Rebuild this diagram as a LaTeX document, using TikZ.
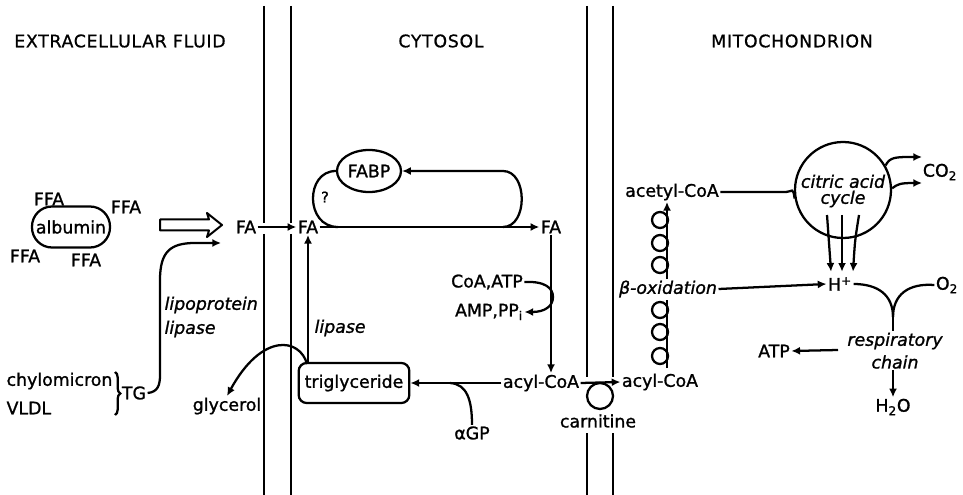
\documentclass[tikz,border=0pt]{standalone}
\usepackage{fontspec}
\setmainfont{DejaVu Sans}[FakeBold=1.2]
\newfontfamily\hdrfont{DejaVu Sans}[LetterSpace=4,FakeBold=0.8]
\usetikzlibrary{arrows.meta,shapes.geometric,decorations.pathreplacing,calc}
\begin{document}
\begin{tikzpicture}[x=0.75pt,y=-0.75pt,
  every node/.style={font=\fontsize{13}{15}\selectfont, inner sep=1pt},
  itl/.style={font=\fontsize{13}{15}\selectfont\itshape},
  hdr/.style={font=\hdrfont\fontsize{13}{15}\selectfont},
  ln/.style={line width=1.7pt},
  arr/.style={line width=1.7pt, -{Latex[length=6.5pt,width=6pt]}},
  mem/.style={line width=1.4pt},
  boxed/.style={draw, line width=1.7pt},
]
\useasboundingbox (0,0) rectangle (963,495);

% membranes
\draw[mem] (264,6) -- (264,223) (264,234) -- (264,495);
\draw[mem] (291,6) -- (291,223) (291,234) -- (291,495);
\draw[mem] (587,6) -- (587,377) (587,433) -- (587,495);
\draw[mem] (613,6) -- (613,377) (613,433) -- (613,495);

% headers
\node[hdr] (hext) at (120,41) {EXTRACELLULAR FLUID};
\node[hdr] (hcyt) at (441,41) {CYTOSOL};
\node[hdr] (hmit) at (792,41) {MITOCHONDRION};

% extracellular
\node[boxed, rounded corners=15pt, minimum width=58.5pt, minimum height=30.75pt] (alb) at (71,227) {albumin};
\node (ffa1) at (49,199) {FFA};
\node (ffa2) at (126,207) {FFA};
\node (ffa3) at (25,256) {FFA};
\node (ffa4) at (86,260) {FFA};
\node[anchor=west] (chylo) at (5,381) {chylomicron};
\node[anchor=west] (vldl) at (5,408) {VLDL};
\node (tg) at (134,393) {TG};
\draw[ln, decorate, decoration={brace, amplitude=4pt}] (115,372) -- (115,415);
\node[itl, anchor=west] (lpl1) at (163,305) {lipoprotein};
\node[itl, anchor=west] (lpl2) at (163,329) {lipase};

\node (fa1) at (246,227) {FA};
\node (fa2) at (308,227) {FA};
\node (fa3) at (551,227) {FA};

% hollow arrow
\draw[line width=1.5pt, line join=round] (160,219.5) -- (209,219.5) -- (207,213) -- (222,225) -- (207,237) -- (209,230.5) -- (160,230.5) -- cycle;

% lipoprotein lipase path
\coordinate (lpltip) at (221,243);
\draw[arr] (tg.east) .. controls (158,392) and (160,385) .. (160,375) -- (160,280) .. controls (160,252) and (170,243) .. (195,243) -- (lpltip);

\draw[arr] (fa1.east) -- (fa2.west);

% cytosol
\node[draw, ellipse, line width=1.7pt, minimum width=48pt, minimum height=31.5pt, inner sep=0pt] (fabp) at (369,171) {FABP};
\node[font=\fontsize{11}{13}\selectfont] (q) at (325,197) {?};
\draw[arr] (fa2.east) -- (fa3.west);
\draw[ln] (338,227) .. controls (305,227) and (305,171) .. (fabp.west);
\draw[arr] (503,227) .. controls (528,227) and (528,171) .. (503,171) -- (fabp.east);

\node (coa) at (487,282) {CoA,ATP};
\node (amp) at (489,312) {AMP,PP\textsubscript{i}};
\node (acylc) at (541,383) {acyl-CoA};
\draw[arr] (fa3.south) -- (acylc.north -| fa3.south);
\draw[arr] (coa.east) .. controls (545,281) and (553,288) .. (553,297) .. controls (553,306) and (545,312) .. (amp.east);

\node[boxed, rounded corners=6pt, minimum width=83pt, minimum height=30pt] (trig) at (354,383) {triglyceride};
\node (agp) at (472,433) {αGP};
\draw[arr] (acylc.west) -- (trig.east);
\draw[ln] (agp.north) .. controls (472,400) and (467,384) .. (450,383);

\node[itl, anchor=west] (lipase) at (313,328) {lipase};
\draw[arr] (fa2.south |- trig.north) -- (fa2.south);

\node (glyc) at (227,406) {glycerol};
\draw[arr] (307,364) .. controls (300,338) and (262,332) .. (glyc.north);

% carnitine
\node (acylm) at (660,382) {acyl-CoA};
\node[draw, circle, line width=1.7pt, minimum size=19.5pt, inner sep=0pt] (carn) at (600,396) {};
\node (carnt) at (598,421) {carnitine};
\draw[arr] (acylc.east) -- (acylm.west);

% mitochondrion
\node (acetyl) at (672,192) {acetyl-CoA};
\node[itl] (beta) at (668,289) {β-oxidation};
\draw[ln] (667,368) -- (667,300);
\draw[arr] (667,279) -- (acetyl.south -| 667,0);
\foreach \yc in {220,243,265,310,332,356} {
  \draw[ln] (660,\yc) circle[radius=8];
}

\node[draw, circle, line width=1.7pt, minimum size=72pt, inner sep=0pt] (cac) at (843,190) {};
\node[itl, align=center] (cact) at (843,191) {citric acid\\[-3pt]cycle};
\draw[ln] (acetyl.east) -- (786,192) .. controls (792,192) and (793,186) .. (cac.190);

\node (co2) at (940,172) {CO\textsubscript{2}};
\coordinate (co2a) at (922,157);
\coordinate (co2b) at (922,183);
\draw[arr] (cac.30) .. controls (890,157) and (895,157) .. (co2a);
\draw[arr] (cac.2) .. controls (898,184) and (900,183) .. (co2b);

\node (hplus) at (840,284) {H\textsuperscript{+}};
\draw[arr] (827,215) .. controls (829,240) .. ($(hplus.north)+(-9,-4)$);
\draw[arr] (842,215) -- ($(hplus.north)+(2,-4)$);
\draw[arr] (859,215) .. controls (855,240) .. ($(hplus.north)+(13,-4)$);

\draw[arr] (beta.east) -- (hplus.west);

\node (o2) at (947,285) {O\textsubscript{2}};
\node[itl] (resp) at (895,341) {respiratory};
\node[itl] (chain) at (895,362) {chain};
\coordinate (yj) at (893,317);
\draw[ln] (hplus.east) .. controls (878,284) and (893,295) .. (yj);
\draw[ln] (o2.west) .. controls (908,283) and (893,295) .. (yj);
\draw[ln] (yj) -- (resp.north -| yj);

\node (atp) at (774,351) {ATP};
\coordinate (atps) at (838,350);
\draw[arr] (atps) -- (atp.east);

\node (h2o) at (893,407) {H\textsubscript{2}O};
\draw[arr] (chain.south -| h2o.north) -- (h2o.north);
\end{tikzpicture}
\end{document}
